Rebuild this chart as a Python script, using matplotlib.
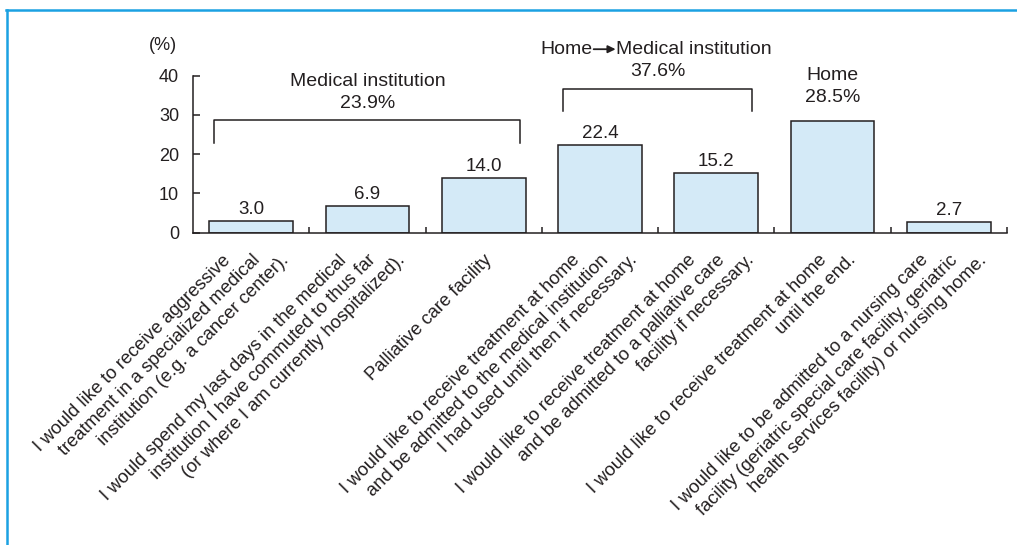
import numpy as np
import matplotlib.pyplot as plt
from matplotlib.lines import Line2D

plt.rcParams['font.family'] = ['Liberation Sans', 'DejaVu Sans']

# each label is a list of lines (drawn like the original, line ends on one row)
categories = [
    ["I would like to receive aggressive",
     "treatment in a specialized medical",
     "institution (e.g. a cancer center)."],
    ["I would spend my last days in the medical",
     "institution I have commuted to thus far",
     "(or where I am currently hospitalized)."],
    ["Palliative care facility"],
    ["I would like to receive treatment at home",
     "and be admitted to the medical institution",
     "I had used until then if necessary."],
    ["I would like to receive treatment at home",
     "and be admitted to a palliative care",
     "facility if necessary."],
    ["I would like to receive treatment at home",
     "until the end."],
    ["I would like to be admitted to a nursing care",
     "facility (geriatric special care facility, geriatric",
     "health services facility) or nursing home."],
]
values = [3.0, 6.9, 14.0, 22.4, 15.2, 28.5, 2.7]

# groups: name parts (joined by an arrow), total, first and last bar
group_names = [["Medical institution"], ["Home", "Medical institution"], ["Home"]]
group_totals = ["23.9%", "37.6%", "28.5%"]
group_first = [0, 3, 5]
group_last = [2, 4, 5]

ink = "#231f20"
bar_fill = "#d4eaf7"
frame_blue = "#1ba1e2"

# bracket heights (layout only)
bracket_top = {0: 28.6, 1: 36.7}

fig = plt.figure(figsize=(10.17, 5.45), dpi=100)
ax_w_px = 814
ax = fig.add_axes([193 / 1017, 1 - 232.7 / 545, ax_w_px / 1017, 157 / 545])

x = np.arange(len(values))
bar_w = 0.72
ax.bar(x, values, width=bar_w, color=bar_fill, edgecolor=ink, linewidth=1.1)

single_groups = [a for a, b in zip(group_first, group_last) if a == b]
for xi, v in zip(x, values):
    if xi in single_groups:
        continue  # value shown by the group label instead
    ax.annotate(f"{v:.1f}", (xi, v), xytext=(0, 2), textcoords="offset points",
                ha="center", va="bottom", fontsize=13.5, color=ink)

ax.set_xlim(-0.5, len(values) - 0.5)
ax.set_ylim(0, 40)
ax.set_yticks([0, 10, 20, 30, 40])
ax.tick_params(axis="y", direction="in", length=5, width=1.1, pad=10,
               labelsize=13, colors=ink)
ax.set_xticks(np.arange(0.5, len(values), 1.0))
ax.set_xticklabels([])
ax.tick_params(axis="x", direction="in", length=4.5, width=1.1, colors=ink)
for s in ["top", "right"]:
    ax.spines[s].set_visible(False)
for s in ["left", "bottom"]:
    ax.spines[s].set_color(ink)
    ax.spines[s].set_linewidth(1.1)

# rotated category labels, each line ending just under the axis
step = 29
for xi, lines in zip(x, categories):
    n = len(lines)
    for j, line in enumerate(lines):
        dx = (j - (n - 1) / 2) * step
        ax.annotate(line, (xi, 0), xytext=(dx, -19), textcoords="offset pixels",
                    rotation=45, rotation_mode="anchor", ha="right", va="top",
                    fontsize=13.2, color=ink, annotation_clip=False)

# group brackets and totals
px = (len(values)) / ax_w_px  # data units per pixel along x
for k, (parts, total, a, b) in enumerate(zip(group_names, group_totals,
                                             group_first, group_last)):
    mid = (a + b) / 2
    if k in bracket_top:
        top = bracket_top[k]
        left = a - bar_w / 2 + 0.04
        right = b + bar_w / 2 - 0.05
        ax.plot([left, left, right, right], [top - 5.7, top, top, top - 5.7],
                color=ink, linewidth=1.1, clip_on=False)
        y_total = top + 4.3
    else:
        y_total = values[a] + 6.0
    y_name = y_total + 5.6
    ax.text(mid, y_total, total, ha="center", va="center", fontsize=14,
            color=ink, clip_on=False)
    if len(parts) == 1:
        ax.text(mid, y_name, parts[0], ha="center", va="center", fontsize=14,
                color=ink, clip_on=False)
    else:
        ax.text(mid - 65.5 * px, y_name, parts[0], ha="right", va="center",
                fontsize=14, color=ink, clip_on=False)
        ax.annotate("", xy=(mid - 42.5 * px, y_name + 0.15),
                    xytext=(mid - 64.5 * px, y_name + 0.15),
                    arrowprops=dict(arrowstyle="-|>,head_length=0.45,head_width=0.22",
                                    color=ink, lw=1.3, shrinkA=0, shrinkB=0),
                    annotation_clip=False)
        ax.text(mid - 42.5 * px, y_name, parts[1], ha="left", va="center",
                fontsize=14, color=ink, clip_on=False)

fig.text(163 / 1017, 1 - 45 / 545, "(%)", ha="center", va="center",
         fontsize=13, color=ink)

# blue frame on top and left
fig.add_artist(Line2D([6 / 1017, 1], [1 - 9.5 / 545, 1 - 9.5 / 545],
                      transform=fig.transFigure, color=frame_blue, linewidth=1.8))
fig.add_artist(Line2D([7 / 1017, 7 / 1017], [0, 1 - 9.5 / 545],
                      transform=fig.transFigure, color=frame_blue, linewidth=1.8))

fig.savefig("out.png", dpi=100)
